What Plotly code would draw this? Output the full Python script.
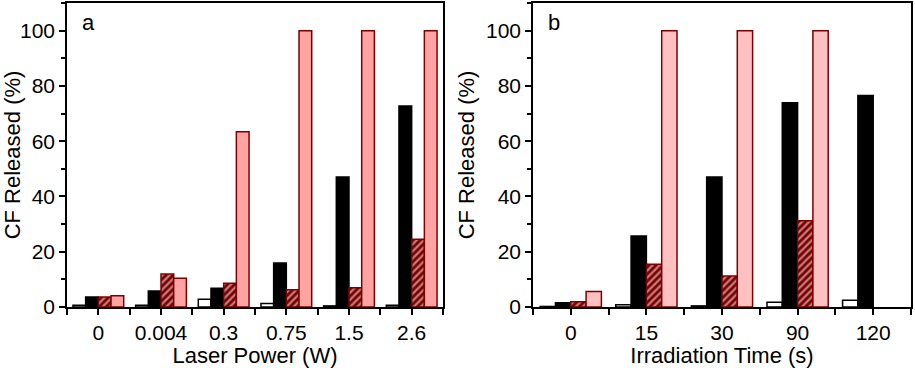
import plotly.graph_objects as go
from plotly.subplots import make_subplots

# ---- data ----
power_labels = ["0", "0.004", "0.3", "0.75", "1.5", "2.6"]
power_white = [0.6, 0.6, 2.8, 1.3, 0.4, 0.6]
power_black = [3.6, 5.8, 6.8, 15.9, 47.0, 72.7]
power_hatched = [3.6, 11.9, 8.6, 6.2, 7.0, 24.5]
power_pink = [4.1, 10.4, 63.4, 100.0, 100.0, 100.0]

time_labels = ["0", "15", "30", "90", "120"]
time_white = [0.2, 0.8, 0.4, 1.7, 2.4]
time_black = [1.5, 25.7, 47.0, 73.9, 76.5]
time_hatched = [1.9, 15.5, 11.2, 31.2, None]
time_pink = [5.6, 100.0, 100.0, 100.0, None]

y_ticks = [0, 20, 40, 60, 80, 100]

DARK_RED = "#7d0000"
FONT = "Liberation Sans, Arial, sans-serif"
TICK_SIZE = 21
TITLE_SIZE = 22

fig = make_subplots(rows=1, cols=2, horizontal_spacing=0.1066)


def add_panel(col, labels, white, black, hatched, pink, pink_color):
    x = list(range(len(labels)))
    fig.add_trace(go.Bar(x=x, y=white, marker=dict(color="white", line=dict(color="black", width=1.5)),
                         showlegend=False), row=1, col=col)
    fig.add_trace(go.Bar(x=x, y=black, marker=dict(color="black", line=dict(color="black", width=1.5)),
                         showlegend=False), row=1, col=col)
    fig.add_trace(go.Bar(x=x, y=hatched,
                         marker=dict(color=DARK_RED, line=dict(color=DARK_RED, width=1.5),
                                     pattern=dict(shape="/", fgcolor="white", bgcolor=DARK_RED,
                                                  size=5, solidity=0.45)),
                         showlegend=False), row=1, col=col)
    fig.add_trace(go.Bar(x=x, y=pink, marker=dict(color=pink_color, line=dict(color=DARK_RED, width=1.5)),
                         showlegend=False), row=1, col=col)
    fig.update_xaxes(row=1, col=col, range=[-0.5, len(labels) - 0.5],
                     tickmode="array", tickvals=x, ticktext=labels,
                     ticks="outside", ticklen=6, tickwidth=1.5, tickcolor="black",
                     minor=dict(tick0=0.5, dtick=1, ticks="outside", ticklen=6, tickwidth=1.5, tickcolor="black"),
                     showline=True, linecolor="black", linewidth=1.5, mirror=True,
                     showgrid=False, zeroline=False,
                     tickfont=dict(size=TICK_SIZE, color="black", family=FONT))
    fig.update_yaxes(row=1, col=col, range=[0, 110],
                     tickmode="array", tickvals=y_ticks,
                     ticks="outside", ticklen=6, tickwidth=1.5, tickcolor="black",
                     minor=dict(tick0=0, dtick=10, ticks="outside", ticklen=4, tickwidth=1.5, tickcolor="black"),
                     showline=True, linecolor="black", linewidth=1.5, mirror=True,
                     showgrid=False, zeroline=False,
                     tickfont=dict(size=TICK_SIZE, color="black", family=FONT),
                     title=dict(text="CF Released (%)", font=dict(size=TITLE_SIZE, color="black", family=FONT),
                                standoff=5))


add_panel(1, power_labels, power_white, power_black, power_hatched, power_pink, "#ffa3a3")
add_panel(2, time_labels, time_white, time_black, time_hatched, time_pink, "#ffc0c2")

fig.update_xaxes(row=1, col=1, domain=[0, 0.4455],
                 title=dict(text="Laser Power (W)", font=dict(size=TITLE_SIZE, color="black", family=FONT),
                            standoff=3))
fig.update_xaxes(row=1, col=2, domain=[0.5521, 1.0],
                 title=dict(text="Irradiation Time (s)", font=dict(size=TITLE_SIZE, color="black", family=FONT),
                            standoff=3))

fig.add_annotation(text="a", xref="x domain", yref="y domain", x=0.035, y=0.985,
                   xanchor="left", yanchor="top", showarrow=False,
                   font=dict(size=22, color="black", family=FONT))
fig.add_annotation(text="b", xref="x2 domain", yref="y2 domain", x=0.035, y=0.985,
                   xanchor="left", yanchor="top", showarrow=False,
                   font=dict(size=22, color="black", family=FONT))

fig.update_layout(width=915, height=368, barmode="group", bargap=0.19, bargroupgap=0,
                  margin=dict(l=67, r=4, t=3, b=61, autoexpand=False),
                  plot_bgcolor="white", paper_bgcolor="white",
                  font=dict(family=FONT, color="black"))

fig.write_html("out.html", config={"displayModeBar": False},
               post_script="document.body.style.margin='0';document.body.style.padding='0';")
